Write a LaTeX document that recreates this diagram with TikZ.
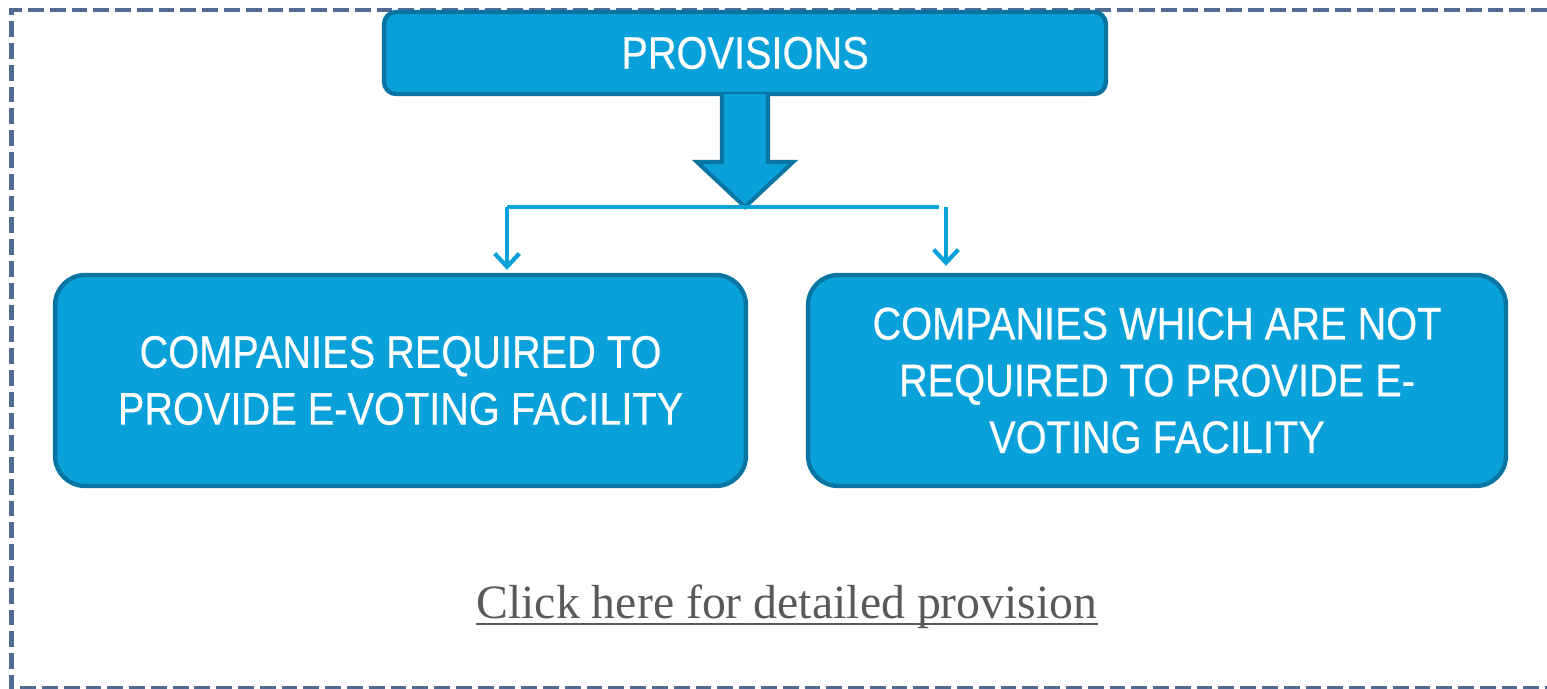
\documentclass[tikz,border=0pt]{standalone}
\usepackage{fontspec}
\setmainfont{Liberation Serif}
\newfontfamily\boxfont{Liberation Sans}[FakeStretch=0.87,FakeBold=0.4]
\usetikzlibrary{arrows.meta,calc}
\definecolor{boxfill}{RGB}{10,161,218}
\definecolor{boxedge}{RGB}{9,117,162}
\definecolor{frameblue}{RGB}{80,106,146}
\definecolor{linkgray}{RGB}{89,89,89}
\begin{document}
\begin{tikzpicture}[x=0.02cm,y=-0.02cm,
  bluebox/.style={draw=boxedge,fill=boxfill,line width=2.5pt,text=white,
    font=\boxfont\fontsize{26}{32.3}\selectfont,align=center,inner sep=0pt},
  feed/.style={draw=boxfill,line width=2.4pt},
  droparrow/.style={feed,-{Straight Barb[length=7.5pt,width=14pt,line width=2.4pt]}}]
\useasboundingbox (0,0) rectangle (1547,689);
% dashed frame, open on the right
\draw[frameblue,line width=2.8pt,dash pattern=on 9pt off 3.4pt]
  (1547,10) -- (11.5,10) -- (11.5,688) -- (1547,688);

% heading box
\node[bluebox,rounded corners=0.24cm,minimum width=14.44cm,minimum height=1.64cm]
  (prov) at (745,53) {PROVISIONS};

% the two categories
\node[bluebox,rounded corners=0.6cm,minimum width=13.82cm,minimum height=4.22cm]
  (req) at (400.5,380.5) {COMPANIES REQUIRED TO\\PROVIDE E-VOTING FACILITY};
\node[bluebox,rounded corners=0.6cm,minimum width=13.96cm,minimum height=4.22cm]
  (notreq) at (1157,380.5) {COMPANIES WHICH ARE NOT\\REQUIRED TO PROVIDE E-\\VOTING FACILITY};

% junction under the heading
\coordinate (junc) at (745,207);
\coordinate (jl) at (507,207);
\coordinate (jr) at (939,207);

% block arrow from the heading to the junction
\draw[draw=boxedge,fill=boxfill,line width=2.3pt,line join=miter]
  (722,94) -- (722,162) -- (697,162) -- (junc) -- (793,162) -- (768,162) -- (768,94);

% branch line and the two drop arrows
\draw[feed,line width=2.8pt] (jl) -- (jr);
\draw[droparrow] (jl) -- ([yshift=0.06cm]jl |- req.north);
\draw[droparrow] ([xshift=0.14cm]jr) -- ([xshift=0.14cm,yshift=0.14cm]jr |- notreq.north);

% link text with its underline
\node[anchor=base,text=linkgray,font=\fontsize{27.2}{32}\selectfont,inner sep=0pt]
  (link) at (787,618) {Click here for detailed provision};
\draw[linkgray,line width=1.3pt] ([yshift=-3.6pt]link.base west) -- ([yshift=-3.6pt]link.base east);
\end{tikzpicture}
\end{document}
